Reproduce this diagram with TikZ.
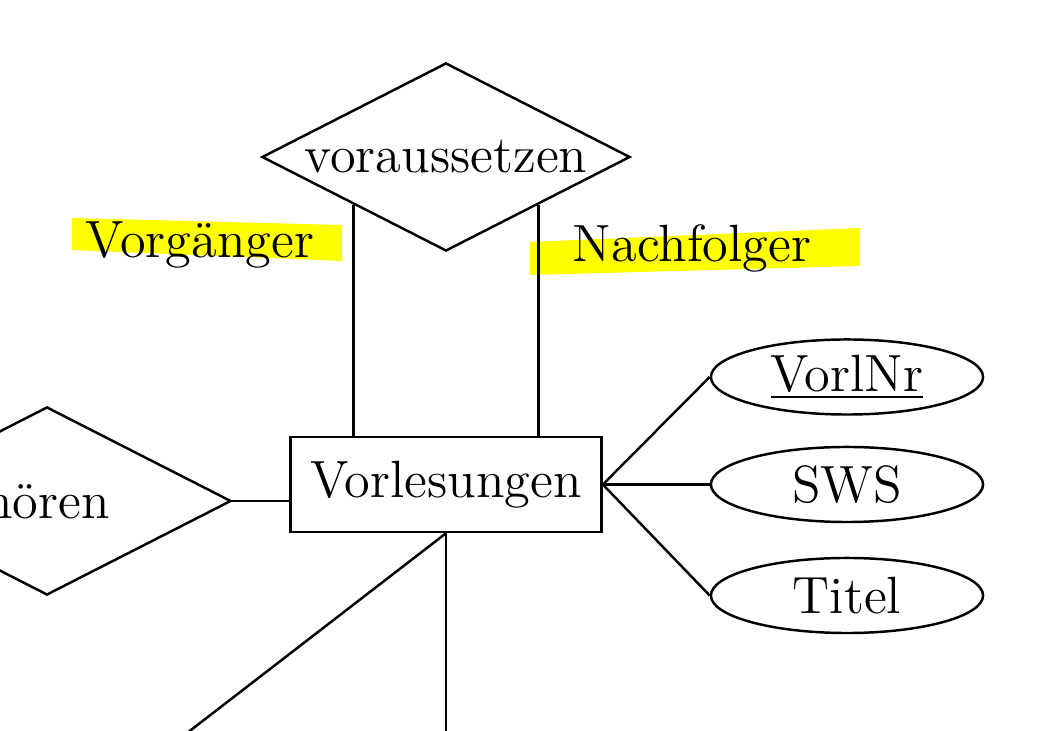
\documentclass[tikz,border=0pt]{standalone}
\usepackage{xcolor}
\usetikzlibrary{shapes.geometric}
\definecolor{markyellow}{HTML}{FFFF00}

\begin{document}
\begin{tikzpicture}[
  x=0.01cm,
  y=-0.01cm,
  line width=0.7pt,
  every node/.style={font=\fontsize{14.9}{18}\selectfont},
  relation/.style={draw, diamond, aspect=1.96, inner sep=0pt, minimum width=3.68cm, minimum height=1.88cm},
  entity/.style={draw, rectangle, inner sep=0pt, minimum width=3.11cm, minimum height=0.95cm},
  attribute/.style={draw, ellipse, inner sep=0pt, minimum width=2.72cm, minimum height=0.75cm}
]
  \useasboundingbox (0,0) rectangle (1042,731);
  \clip (0,0) rectangle (1042,731);

  % highlighter marks behind the role names
  \fill[markyellow] (72,218) -- (342,225) -- (342,261) -- (72,250) -- cycle;
  \fill[markyellow] (530,242) -- (860,228) -- (860,266) -- (530,275) -- cycle;

  \node[relation] (voraus) at (446,157) {voraussetzen};
  \node[entity] (lecture) at (446,484.5) {Vorlesungen};
  \node[relation] (hoeren) at (47,501) {hören};

  \node[attribute] (vorlnr) at (847,377) {\underline{VorlNr}};
  \node[attribute] (sws) at (847,484.5) {SWS};
  \node[attribute] (titel) at (847,595.5) {Titel};

  \node (pred) at (200,245) {Vorgänger};
  \node (succ) at (692,248) {Nachfolger};

  \coordinate (downA) at (178,740);
  \coordinate (downB) at (446,740);

  \draw (voraus.south west) -- (voraus.south west |- lecture.north);
  \draw (voraus.south east) -- (voraus.south east |- lecture.north);
  \draw (hoeren.east) -- (hoeren.east -| lecture.west);
  \draw (lecture.east) -- (vorlnr.west);
  \draw (lecture.east) -- (sws.west);
  \draw (lecture.east) -- (titel.west);
  \draw (lecture.south) -- (downA);
  \draw (lecture.south) -- (downB);
\end{tikzpicture}
\end{document}
